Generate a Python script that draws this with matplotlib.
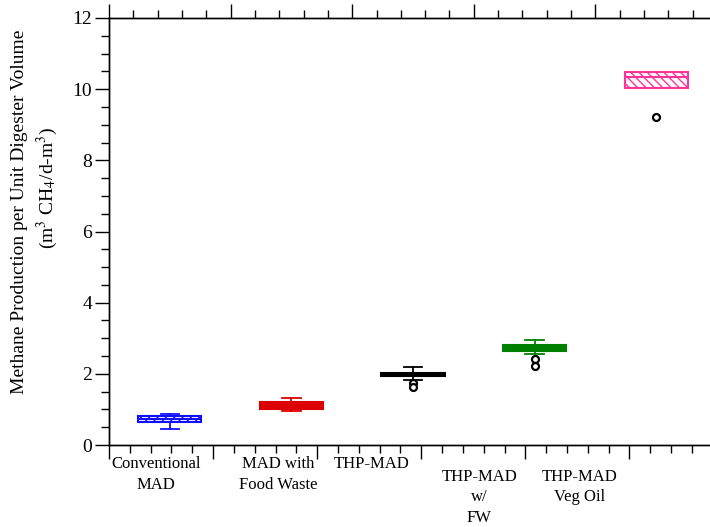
import numpy as np
import matplotlib
matplotlib.use("Agg")
import matplotlib.pyplot as plt
from matplotlib.ticker import FixedLocator, MultipleLocator, NullFormatter

plt.rcParams["font.family"] = ["Liberation Serif", "DejaVu Serif"]
plt.rcParams["mathtext.fontset"] = "stix"
plt.rcParams["hatch.linewidth"] = 1.0

# values
categories = ["Conventional\nMAD", "MAD with\nFood Waste", "THP-MAD", "THP-MAD\nw/\nFW", "THP-MAD\nVeg Oil"]
q1 = [0.64, 1.01, 1.93, 2.64, 10.04]
med = [0.73, 1.11, 1.98, 2.72, 10.35]
q3 = [0.81, 1.21, 2.03, 2.80, 10.49]
whis_lo = [0.44, 0.96, 1.82, 2.57, 10.04]
whis_hi = [0.87, 1.31, 2.18, 2.94, 10.49]
fliers = [[], [], [1.73, 1.64], [2.41, 2.22], [9.23]]

colors = ["#1010ff", "#dd0000", "#000000", "#008000", "#ff3399"]
hatches = ["////", None, "|||", None, "\\\\\\\\"]
solid = [False, True, False, True, False]
label_x = [0.887, 1.891, 2.657, 3.545, 4.368]
label_y = [-0.026, -0.026, -0.026, -0.056, -0.056]

fig = plt.figure(figsize=(7.1, 5.27), dpi=100)
ax = fig.add_axes([109 / 710, 82 / 527, 608 / 710, 427 / 527])

stats = []
for i in range(len(categories)):
    stats.append(dict(med=med[i], q1=q1[i], q3=q3[i], whislo=whis_lo[i],
                      whishi=whis_hi[i], fliers=fliers[i], label=""))

positions = np.arange(1, len(categories) + 1)
bp = ax.bxp(stats, positions=positions, widths=0.52, patch_artist=True,
            capwidths=0.15, manage_ticks=False,
            flierprops=dict(marker="o", markerfacecolor="white", markeredgecolor="black",
                            markersize=5, markeredgewidth=1.6))

for i, c in enumerate(colors):
    box = bp["boxes"][i]
    box.set_edgecolor(c)
    box.set_linewidth(1.5)
    if solid[i]:
        box.set_facecolor(c)
    else:
        box.set_facecolor("white")
        box.set_hatch(hatches[i])
    bp["medians"][i].set_color(c)
    bp["medians"][i].set_linewidth(1.5)
    for ln in bp["whiskers"][2 * i:2 * i + 2] + bp["caps"][2 * i:2 * i + 2]:
        ln.set_color(c)
        ln.set_linewidth(1.3)

ax.set_xlim(0.5, 5.5)
ax.set_ylim(0, 12)

# bottom axis ticks (different spacing from the box positions)
step = 104 / 121.5
ax.xaxis.set_major_locator(FixedLocator(0.5 + step * np.arange(0, 7)))
ax.xaxis.set_minor_locator(FixedLocator(0.5 + step / 5 * np.arange(0, 31)))
ax.xaxis.set_major_formatter(NullFormatter())
ax.yaxis.set_major_locator(MultipleLocator(2))
ax.yaxis.set_minor_locator(MultipleLocator(0.5))
ax.tick_params(axis="both", which="major", direction="out", length=10, width=1, labelsize=14)
ax.tick_params(axis="both", which="minor", direction="out", length=6, width=1)
ax.tick_params(axis="y", pad=2)

top = ax.twiny()
top.set_xlim(0.5, 5.5)
top.xaxis.set_major_locator(MultipleLocator(1, offset=0.5))
top.xaxis.set_minor_locator(MultipleLocator(0.2, offset=0.1))
top.xaxis.set_major_formatter(NullFormatter())
top.tick_params(axis="x", which="major", direction="out", length=10, width=1)
top.tick_params(axis="x", which="minor", direction="out", length=6, width=1)

for s in list(ax.spines.values()) + list(top.spines.values()):
    s.set_linewidth(1)

for x, y, lab in zip(label_x, label_y, categories):
    ax.text(x, y, lab, transform=ax.get_xaxis_transform(), ha="center", va="top",
            fontsize=12, linespacing=1.38)

fig.text(20 / 710, 1 - 212 / 527, "Methane Production per Unit Digester Volume",
         rotation=90, ha="center", va="center", fontsize=14)
fig.text(47 / 710, 1 - 188 / 527, r"(m$^3$ CH$_4$/d-m$^3$)",
         rotation=90, ha="center", va="center", fontsize=14)

fig.savefig("out.png", dpi=100)
